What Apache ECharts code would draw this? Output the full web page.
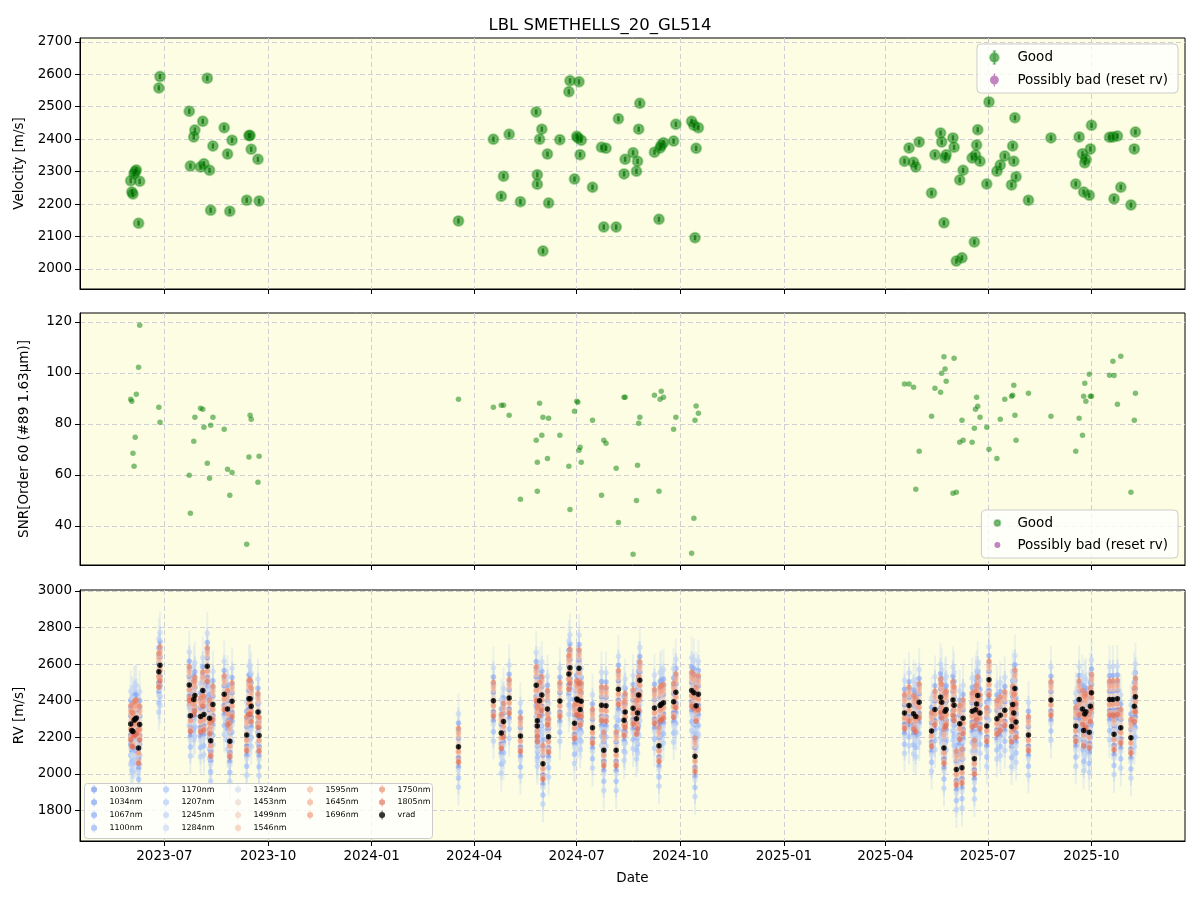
<!DOCTYPE html>
<html>
<head>
<meta charset="utf-8">
<title>LBL SMETHELLS_20_GL514</title>
<script src="https://cdn.jsdelivr.net/npm/echarts@6/dist/echarts.min.js"></script>
<style>
  html, body { margin: 0; background: #fff; }
  #chart { width: 1200px; height: 900px; }
</style>
</head>
<body>
<div id="chart"></div>
<script>
const DATES = [
  '2023-06-01', '2023-06-02', '2023-06-03', '2023-06-04', '2023-06-05', '2023-06-06', '2023-06-08', '2023-06-09',
  '2023-06-26', '2023-06-27', '2023-07-23', '2023-07-24', '2023-07-27', '2023-07-28', '2023-08-02', '2023-08-04',
  '2023-08-05', '2023-08-08', '2023-08-10', '2023-08-11', '2023-08-13', '2023-08-23', '2023-08-26', '2023-08-28',
  '2023-08-30', '2023-09-12', '2023-09-14', '2023-09-15', '2023-09-16', '2023-09-22', '2023-09-23',
  '2024-03-18', '2024-04-18', '2024-04-25', '2024-04-27', '2024-05-02', '2024-05-12', '2024-05-26', '2024-05-27',
  '2024-05-27', '2024-05-29', '2024-05-31', '2024-06-01', '2024-06-05', '2024-06-06', '2024-06-16', '2024-06-24',
  '2024-06-25', '2024-06-29', '2024-07-01', '2024-07-02', '2024-07-03', '2024-07-04', '2024-07-05', '2024-07-15',
  '2024-07-23', '2024-07-25', '2024-07-27', '2024-08-05', '2024-08-07', '2024-08-12', '2024-08-13', '2024-08-20',
  '2024-08-23', '2024-08-24', '2024-08-25', '2024-08-26', '2024-09-08', '2024-09-12', '2024-09-13', '2024-09-14',
  '2024-09-16', '2024-09-25', '2024-09-27', '2024-10-11', '2024-10-13', '2024-10-14', '2024-10-15', '2024-10-17',
  '2025-04-18', '2025-04-22', '2025-04-26', '2025-04-28', '2025-05-01', '2025-05-12', '2025-05-15', '2025-05-20',
  '2025-05-21', '2025-05-23', '2025-05-24', '2025-05-25', '2025-05-31', '2025-06-01', '2025-06-03', '2025-06-06',
  '2025-06-08', '2025-06-09', '2025-06-17', '2025-06-19', '2025-06-20', '2025-06-21', '2025-06-22', '2025-06-24',
  '2025-06-30', '2025-07-02', '2025-07-09', '2025-07-12', '2025-07-16', '2025-07-22', '2025-07-23', '2025-07-24',
  '2025-07-25', '2025-07-26', '2025-08-06', '2025-08-26', '2025-09-17', '2025-09-20', '2025-09-23', '2025-09-24',
  '2025-09-25', '2025-09-26', '2025-09-29', '2025-09-30', '2025-10-01', '2025-10-17', '2025-10-20', '2025-10-21',
  '2025-10-24', '2025-10-27', '2025-11-05', '2025-11-08', '2025-11-09'
];

// velocity (m/s) = vrad of the bottom panel
const VELOCITY = [
  2272, 2237, 2231, 2293, 2300, 2305, 2141, 2270,
  2558, 2593, 2486, 2317, 2407, 2428, 2314, 2455,
  2324, 2588, 2304, 2181, 2379, 2435, 2354, 2178,
  2397, 2212, 2411, 2411, 2369, 2338, 2209,
  2148, 2400, 2224, 2286, 2415, 2207, 2484, 2290,
  2261, 2400, 2431, 2055, 2354, 2203, 2398, 2546,
  2580, 2277, 2409, 2404, 2577, 2352, 2397, 2252,
  2375, 2129, 2372, 2129, 2463, 2293, 2338, 2358,
  2301, 2332, 2431, 2511, 2360, 2153, 2373, 2381,
  2389, 2394, 2446, 2455, 2443, 2096, 2372, 2435,
  2332, 2373, 2329, 2314, 2391, 2234, 2352, 2419,
  2391, 2142, 2342, 2352, 2404, 2375, 2024, 2274,
  2034, 2304, 2342, 2083, 2351, 2382, 2429, 2332,
  2262, 2515, 2301, 2320, 2348, 2259, 2379, 2332,
  2466, 2284, 2212, 2404, 2262, 2407, 2355, 2237,
  2327, 2339, 2227, 2370, 2443, 2406, 2407, 2216,
  2410, 2252, 2197, 2370, 2422
];

// SNR in order 60
const SNR = [
  89.7, 88.9, 68.5, 63.4, 74.8, 91.6, 102.2, 118.7,
  86.5, 80.7, 59.9, 45.0, 73.2, 82.6, 86.2, 85.8,
  78.7, 64.6, 58.7, 79.5, 82.6, 77.9, 62.2, 52.0,
  61.0, 32.8, 67.0, 83.4, 81.8, 57.1, 67.3,
  89.7, 86.5, 87.3, 87.3, 83.4, 50.5, 73.6, 65.0,
  53.6, 88.1, 75.6, 82.6, 66.5, 82.2, 75.6, 63.4,
  46.5, 85.0, 88.9, 88.5, 69.7, 70.9, 65.0, 81.5,
  52.0, 73.6, 72.4, 62.6, 41.4, 90.5, 90.5, 28.9,
  50.0, 63.8, 80.3, 82.6, 91.3, 53.6, 89.7, 92.8,
  90.5, 77.9, 82.6, 29.3, 43.0, 81.5, 87.0, 84.2,
  95.7, 95.7, 94.4, 54.4, 69.3, 83.0, 94.0, 92.4,
  99.9, 106.3, 101.5, 96.7, 52.8, 105.8, 53.2, 72.8,
  81.5, 73.6, 72.8, 78.3, 85.8, 90.5, 86.9, 82.6,
  78.7, 70.1, 66.5, 81.8, 89.7, 90.9, 91.3, 95.2,
  83.4, 73.6, 92.0, 83.0, 69.3, 82.2, 75.6, 90.9,
  96.0, 88.9, 99.5, 90.9, 90.9, 99.1, 104.6, 99.0,
  87.7, 106.5, 53.2, 81.5, 92.0
];

// per-wavelength RVs: typical offset from vrad and error bar size (m/s)
const BANDS = ['1003nm', '1034nm', '1067nm', '1100nm', '1170nm', '1207nm', '1245nm', '1284nm', '1324nm',
  '1453nm', '1499nm', '1546nm', '1595nm', '1645nm', '1696nm', '1750nm', '1805nm'];
const BAND_OFFSETS = [-60, 45, -110, 130, -170, 90, -220, 180, -130, 20, -35, 55, -70, 75, -25, 100, -85];
const BAND_ERRORS = [70, 60, 75, 85, 90, 85, 100, 115, 105, 75, 65, 60, 55, 50, 45, 40, 40];
const BAND_COLORS = ['#6a8cee', '#7499f3', '#7ea3f8', '#8aaefb', '#a0bffc', '#accaf9', '#b9d0f6', '#c4d6f2', '#d0dbeb',
  '#e9d5cb', '#efcdba', '#f3c2aa', '#f5b59a', '#f4a688', '#f09577', '#ea8266', '#df6b55'];
const VRAD_ERROR = 10;
const VEL_ERROR = 8;

const X_MIN = '2023-04-17';
const X_MAX = '2025-12-23';
const X_TICKS = ['2023-07-01', '2023-10-01', '2024-01-01', '2024-04-01', '2024-07-01', '2024-10-01',
  '2025-01-01', '2025-04-01', '2025-07-01', '2025-10-01'];
const VEL_TICKS = [2000, 2100, 2200, 2300, 2400, 2500, 2600, 2700];
const SNR_TICKS = [40, 60, 80, 100, 120];
const RV_TICKS = [1800, 2000, 2200, 2400, 2600, 2800, 3000];

const FONT = 'DejaVu Sans';
const PLOT_BG = '#fdfde3';
const GRID_LINE = { show: true, lineStyle: { color: '#cfcfd4', type: [5, 3], width: 1 } };
const ERR_ICON = 'path://M4.5,0 H5.5 V10 H4.5 Z M5,1.6 A3.4,3.4 0 1,1 5,8.4 A3.4,3.4 0 1,1 5,1.6 Z';

const chart = echarts.init(document.getElementById('chart'));

const toMs = d => echarts.time.parse(d).getTime();
const T = DATES.map(toMs);
const tickTimes = X_TICKS.map(toMs);

function xAxisFor(idx, showLabels) {
  return {
    type: 'value',
    gridIndex: idx,
    min: toMs(X_MIN),
    max: toMs(X_MAX),
    axisLine: { show: true, lineStyle: { color: '#000' } },
    axisTick: { show: true, length: 5, customValues: tickTimes, lineStyle: { color: '#000' } },
    axisLabel: {
      show: showLabels,
      customValues: tickTimes,
      fontFamily: FONT,
      fontSize: 13.5,
      color: '#000',
      margin: 8,
      formatter: v => echarts.time.format(v, '{yyyy}-{MM}', false)
    },
    splitLine: GRID_LINE,
    name: showLabels ? 'Date' : '',
    nameLocation: 'middle',
    nameGap: 30,
    nameTextStyle: { fontFamily: FONT, fontSize: 13.5, color: '#000' }
  };
}

function yAxisFor(idx, min, max, ticks, name) {
  return {
    type: 'value',
    gridIndex: idx,
    min: min,
    max: max,
    axisLine: { show: true, lineStyle: { color: '#000' } },
    axisTick: { show: true, length: 5, customValues: ticks, lineStyle: { color: '#000' } },
    axisLabel: {
      customValues: ticks,
      fontFamily: FONT,
      fontSize: 13.5,
      color: '#000',
      margin: 8,
      formatter: v => String(v)
    },
    splitLine: GRID_LINE,
    name: name,
    nameLocation: 'middle',
    nameGap: 49,
    nameTextStyle: { fontFamily: FONT, fontSize: 13.5, color: '#000' }
  };
}

function errorBars(color, width) {
  return function (params, api) {
    const x = api.value(0);
    const y = api.value(1);
    const e = api.value(2);
    const hi = api.coord([x, y + e]);
    const lo = api.coord([x, y - e]);
    return {
      type: 'line',
      shape: { x1: hi[0], y1: hi[1], x2: lo[0], y2: lo[1] },
      style: { stroke: color, lineWidth: width }
    };
  };
}

const series = [];

// top: velocity
series.push({
  name: 'Good',
  type: 'scatter',
  xAxisIndex: 0,
  yAxisIndex: 0,
  symbolSize: 10,
  itemStyle: { color: 'rgba(0,128,0,0.68)', borderColor: 'rgba(0,128,0,0.4)', borderWidth: 2 },
  data: T.map((t, i) => [t, VELOCITY[i]]),
  z: 3
});
series.push({
  name: 'Good',
  type: 'custom',
  xAxisIndex: 0,
  yAxisIndex: 0,
  silent: true,
  itemStyle: { color: 'rgba(0,128,0,0.68)' },
  renderItem: errorBars('rgba(0,100,0,0.65)', 2.5),
  encode: { x: 0, y: 1 },
  data: T.map((t, i) => [t, VELOCITY[i], VEL_ERROR]),
  z: 4
});
series.push({
  name: 'Possibly bad (reset rv)',
  type: 'scatter',
  xAxisIndex: 0,
  yAxisIndex: 0,
  itemStyle: { color: 'rgba(128,0,128,0.6)' },
  data: []
});

// middle: SNR
series.push({
  name: 'Good',
  type: 'scatter',
  xAxisIndex: 1,
  yAxisIndex: 1,
  symbolSize: 5.5,
  itemStyle: { color: 'rgba(0,128,0,0.62)' },
  data: T.map((t, i) => [t, SNR[i]])
});
series.push({
  name: 'Possibly bad (reset rv)',
  type: 'scatter',
  xAxisIndex: 1,
  yAxisIndex: 1,
  itemStyle: { color: 'rgba(128,0,128,0.6)' },
  data: []
});

// bottom: per-band RVs
BANDS.forEach((band, b) => {
  const pts = T.map((t, i) => [t, VELOCITY[i] + BAND_OFFSETS[b], BAND_ERRORS[b]]);
  series.push({
    name: band,
    type: 'scatter',
    xAxisIndex: 2,
    yAxisIndex: 2,
    symbolSize: 5.5,
    itemStyle: { color: BAND_COLORS[b], opacity: 0.65 },
    data: pts.map(p => [p[0], p[1]]),
    z: 3
  });
  series.push({
    name: band,
    type: 'custom',
    xAxisIndex: 2,
    yAxisIndex: 2,
    clip: true,
    silent: true,
    itemStyle: { color: BAND_COLORS[b] },
    renderItem: errorBars(echarts.color.modifyAlpha(BAND_COLORS[b], 0.3), 2),
    encode: { x: 0, y: 1 },
    data: pts,
    z: 2
  });
});

series.push({
  name: 'vrad',
  type: 'scatter',
  xAxisIndex: 2,
  yAxisIndex: 2,
  symbolSize: 5.5,
  itemStyle: { color: '#000' },
  data: T.map((t, i) => [t, VELOCITY[i]]),
  z: 5
});
series.push({
  name: 'vrad',
  type: 'custom',
  xAxisIndex: 2,
  yAxisIndex: 2,
  clip: true,
  silent: true,
  itemStyle: { color: '#000' },
  renderItem: errorBars('#000', 1.5),
  encode: { x: 0, y: 1 },
  data: T.map((t, i) => [t, VELOCITY[i], VRAD_ERROR]),
  z: 4
});

// bottom legend in matplotlib's column order (5 columns)
const legendCols = [
  [BANDS[0], BANDS[1], BANDS[2], BANDS[3]],
  [BANDS[4], BANDS[5], BANDS[6], BANDS[7]],
  [BANDS[8], BANDS[9], BANDS[10], BANDS[11]],
  [BANDS[12], BANDS[13], BANDS[14]],
  [BANDS[15], BANDS[16], 'vrad']
];
const smallLegends = legendCols.map((names, c) => ({
  data: names,
  orient: 'vertical',
  left: 91 + c * 72,
  top: 785,
  icon: ERR_ICON,
  itemWidth: 7,
  itemHeight: 9,
  itemGap: 3.8,
  padding: 0,
  selectedMode: false,
  textStyle: { fontFamily: FONT, fontSize: 7.9, color: '#000', padding: [0, 0, 0, 7] },
  z: 6
}));

const bigLegendCommon = {
  data: ['Good', 'Possibly bad (reset rv)'],
  orient: 'vertical',
  right: 22,
  backgroundColor: 'rgba(255,255,255,0.8)',
  borderColor: '#cccccc',
  borderWidth: 1,
  borderRadius: 4,
  padding: [6, 10, 6, 12],
  itemGap: 8,
  selectedMode: false,
  textStyle: { fontFamily: FONT, fontSize: 13.5, color: '#000', padding: [0, 0, 0, 12] }
};

chart.setOption({
  animation: false,
  backgroundColor: '#fff',
  title: {
    text: 'LBL SMETHELLS_20_GL514',
    left: 'center',
    top: 12,
    textStyle: { fontFamily: FONT, fontSize: 16.5, fontWeight: 'normal', color: '#000' }
  },
  grid: [
    { left: 80, right: 15, top: 38, height: 251, show: true, backgroundColor: PLOT_BG, borderColor: '#000', borderWidth: 1 },
    { left: 80, right: 15, top: 313, height: 252, show: true, backgroundColor: PLOT_BG, borderColor: '#000', borderWidth: 1 },
    { left: 80, right: 15, top: 590, height: 251, show: true, backgroundColor: PLOT_BG, borderColor: '#000', borderWidth: 1 }
  ],
  xAxis: [xAxisFor(0, false), xAxisFor(1, false), xAxisFor(2, true)],
  yAxis: [
    yAxisFor(0, 1938, 2712, VEL_TICKS, 'Velocity [m/s]'),
    yAxisFor(1, 24.7, 123.5, SNR_TICKS, 'SNR[Order 60 (#89 1.63μm)]'),
    yAxisFor(2, 1633, 3005, RV_TICKS, 'RV [m/s]')
  ],
  legend: [
    Object.assign({}, bigLegendCommon, { top: 44, icon: ERR_ICON, itemWidth: 12, itemHeight: 13 }),
    Object.assign({}, bigLegendCommon, { bottom: 342, icon: 'circle', itemWidth: 6, itemHeight: 13 }),
    ...smallLegends
  ],
  graphic: [{
    type: 'rect',
    left: 84,
    top: 783,
    shape: { width: 348, height: 55, r: 3 },
    style: { fill: 'rgba(255,255,255,0.8)', stroke: '#cccccc', lineWidth: 1 },
    z: 5
  }],
  series: series
});
</script>
</body>
</html>
